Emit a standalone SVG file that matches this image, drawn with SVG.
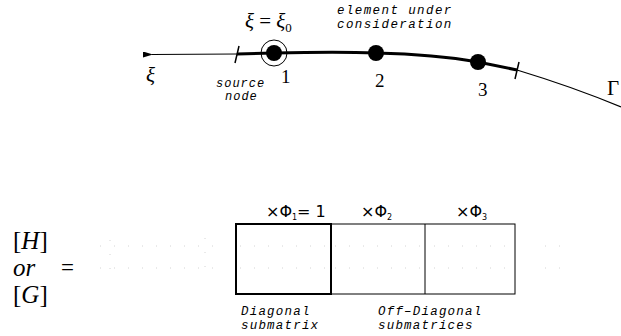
<svg xmlns="http://www.w3.org/2000/svg" width="621" height="336" viewBox="0 0 621 336">
<defs>
<style>
.lbl{font-family:"Liberation Mono",monospace;font-style:italic;fill:#000}
.math{font-family:"Liberation Serif","DejaVu Serif",serif;fill:#000}
.sym{font-family:"DejaVu Sans","Liberation Sans",sans-serif;fill:#000}
.faint{stroke:#d4d4d4;stroke-width:1;stroke-dasharray:1 13;fill:none}
</style>
<marker id="arr" viewBox="0 0 10 6" refX="1" refY="3" markerWidth="10" markerHeight="6" orient="auto" markerUnits="userSpaceOnUse">
<path d="M10,0 L0,3 L10,6 Z" fill="#000"/>
</marker>
</defs>
<rect width="621" height="336" fill="#fff"/>
<g id="connectors">
<path d="M237 54 L152 54.5" stroke="#000" stroke-width="1.2" fill="none" marker-end="url(#arr)"/>
<path d="M237 54 L274 53 C320 52 350 52 376 53 C420 54 450 57 478 62 L517 70" stroke="#000" stroke-width="3" fill="none"/>
<path d="M517 70 C550 80 590 94 621 107" stroke="#000" stroke-width="1.3" fill="none"/>
<path d="M239 46 L235 63" stroke="#000" stroke-width="1.5"/>
<path d="M519 62 L515 79" stroke="#000" stroke-width="1.5"/>
</g>
<g id="node-1">
<circle cx="274" cy="53" r="13" fill="none" stroke="#000" stroke-width="1"/>
<circle cx="274" cy="53" r="8" fill="#000"/>
<text class="math" x="281" y="83" font-size="19">1</text>
</g>
<g id="node-2">
<circle cx="376" cy="53" r="8" fill="#000"/>
<text class="math" x="375" y="87" font-size="19">2</text>
</g>
<g id="node-3">
<circle cx="478" cy="62" r="8" fill="#000"/>
<text class="math" x="478" y="96" font-size="19">3</text>
</g>
<g id="labels-top">
<text class="math" x="245" y="28" font-size="21"><tspan font-style="italic">ξ</tspan> = <tspan font-style="italic">ξ</tspan><tspan font-size="13" dy="4">0</tspan></text>
<text class="lbl" x="337" y="14" font-size="12.5" letter-spacing="1.4">element under</text>
<text class="lbl" x="337" y="28" font-size="12.5" letter-spacing="1.4">consideration</text>
<text class="lbl" x="216" y="87" font-size="12" letter-spacing="1">source</text>
<text class="lbl" x="225" y="100" font-size="12" letter-spacing="1">node</text>
<text class="math" x="146" y="82" font-size="21" font-style="italic">ξ</text>
<text class="math" x="607" y="95" font-size="21">Γ</text>
</g>
<g id="lhs">
<text class="math" x="13" y="249" font-size="25">[<tspan font-style="italic">H</tspan>]</text>
<text class="math" x="13" y="276" font-size="25" font-style="italic">or</text>
<text class="math" x="61" y="275" font-size="23">=</text>
<text class="math" x="13" y="303" font-size="25">[<tspan font-style="italic">G</tspan>]</text>
</g>
<g id="faint-grid">
<path class="faint" d="M110 240 L110 278"/>
<path class="faint" d="M100 246 L225 246 M100 268 L225 268 M205 238 L205 276"/>
<path class="faint" d="M240 246 L330 246 M240 268 L330 268 M434 246 L510 246 M434 268 L510 268 M335 246 L420 246 M335 268 L420 268 M545 246 L560 246 M545 268 L560 268"/>
</g>
<g id="matrix">
<rect x="236" y="224" width="279" height="70" fill="none" stroke="#000" stroke-width="1"/>
<line x1="425" y1="224" x2="425" y2="294" stroke="#000" stroke-width="1"/>
<rect x="236" y="224" width="95" height="70" fill="none" stroke="#000" stroke-width="2"/>
<text class="sym" x="266" y="217" font-size="16">×Φ<tspan font-size="8" dy="3">1</tspan><tspan dy="-3">= 1</tspan></text>
<text class="sym" x="361" y="217" font-size="16">×Φ<tspan font-size="8" dy="3">2</tspan></text>
<text class="sym" x="456" y="217" font-size="16">×Φ<tspan font-size="8" dy="3">3</tspan></text>
<text class="lbl" x="241" y="315" font-size="12.5" letter-spacing="1.2">Diagonal</text>
<text class="lbl" x="241" y="329" font-size="12.5" letter-spacing="1.2">submatrix</text>
<text class="lbl" x="378" y="315" font-size="12.5" letter-spacing="1.2">Off–Diagonal</text>
<text class="lbl" x="378" y="329" font-size="12.5" letter-spacing="1.2">submatrices</text>
</g>
</svg>
